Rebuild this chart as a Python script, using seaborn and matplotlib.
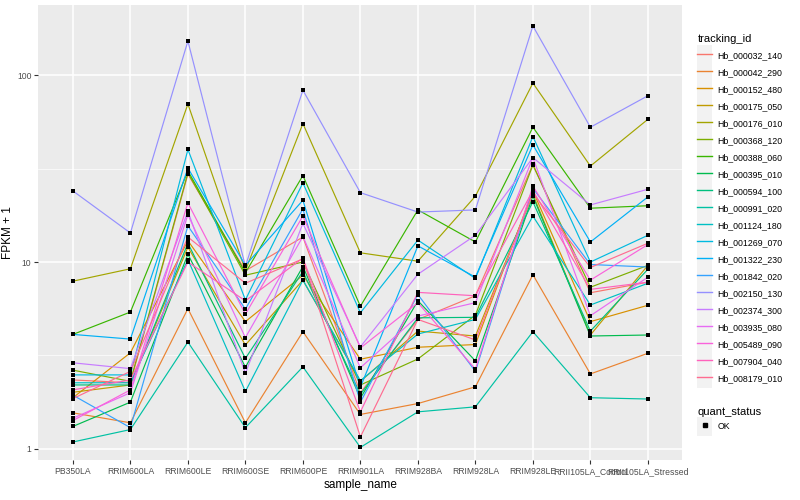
import numpy as np
import pandas as pd
import matplotlib
matplotlib.use("Agg")
import matplotlib.pyplot as plt
import seaborn as sns
from matplotlib.lines import Line2D
from matplotlib.patches import Rectangle
from matplotlib.legend_handler import HandlerLine2D

# samples on the x axis
samples = ["PB350LA", "RRIM600LA", "RRIM600LE", "RRIM600SE", "RRIM600PE",
           "RRIM901LA", "RRIM928BA", "RRIM928LA", "RRIM928LE",
           "RRII105LA_Control", "RRII105LA_Stressed"]

genes = ["Hb_000032_140", "Hb_000042_290", "Hb_000152_480", "Hb_000175_050",
         "Hb_000176_010", "Hb_000368_120", "Hb_000388_060", "Hb_000395_010",
         "Hb_000594_100", "Hb_000991_020", "Hb_001124_180", "Hb_001269_070",
         "Hb_001322_230", "Hb_001842_020", "Hb_002150_130", "Hb_002374_300",
         "Hb_003935_080", "Hb_005489_090", "Hb_007904_040", "Hb_008179_010"]

# FPKM + 1, one row per gene
fpkm = [
    [2.34, 2.26, 29.5, 8.98, 13.6, 2.00, 4.93, 6.60, 33.3, 6.85, 7.80],
    [1.56, 1.38, 5.63, 1.38, 4.24, 1.53, 1.75, 2.15, 8.55, 2.52, 3.25],
    [1.88, 3.27, 13.0, 4.80, 8.50, 3.02, 3.50, 3.62, 24.0, 4.80, 5.87],
    [2.01, 2.20, 12.0, 3.60, 8.00, 2.30, 4.27, 4.02, 23.0, 4.07, 9.60],
    [7.90, 9.20, 70.0, 9.00, 55.0, 11.2, 10.1, 22.5, 90.6, 32.6, 58.0],
    [2.64, 2.30, 30.0, 8.50, 10.0, 2.20, 3.03, 5.20, 33.0, 7.33, 9.60],
    [4.10, 5.40, 30.7, 8.76, 29.0, 5.80, 19.0, 12.8, 52.6, 19.4, 20.0],
    [1.32, 1.78, 11.0, 2.74, 9.46, 1.87, 6.20, 2.96, 22.5, 4.02, 4.07],
    [2.20, 2.20, 12.6, 3.05, 8.90, 1.96, 5.03, 5.06, 21.0, 4.27, 9.15],
    [1.09, 1.27, 3.73, 1.30, 2.75, 1.02, 1.58, 1.68, 4.24, 1.88, 1.85],
    [2.26, 2.26, 10.3, 2.03, 8.00, 2.32, 4.12, 4.93, 17.6, 5.89, 7.70],
    [2.49, 2.49, 40.0, 6.27, 26.5, 5.35, 13.1, 8.17, 46.9, 10.0, 13.9],
    [4.10, 3.87, 31.8, 9.60, 21.4, 2.14, 12.2, 8.30, 42.3, 12.8, 22.3],
    [1.94, 1.30, 15.6, 5.60, 19.2, 1.78, 6.70, 2.60, 24.8, 9.70, 9.40],
    [24.0, 14.3, 152., 9.50, 83.0, 23.5, 18.5, 19.0, 183., 52.6, 77.5],
    [2.89, 2.69, 18.7, 2.54, 16.1, 3.52, 8.60, 13.9, 36.2, 20.2, 24.5],
    [1.46, 2.00, 17.9, 3.94, 13.7, 2.72, 5.14, 6.06, 36.2, 5.16, 8.30],
    [1.42, 2.07, 20.7, 5.26, 17.6, 3.47, 6.06, 2.67, 25.5, 8.00, 12.4],
    [2.07, 2.34, 10.0, 6.20, 10.5, 1.58, 6.88, 6.60, 24.1, 7.14, 7.80],
    [1.86, 2.60, 13.6, 7.70, 10.4, 1.16, 4.93, 3.83, 23.3, 9.35, 12.6],
]

# ggplot2 default hue palette for 20 levels
colors = ["#F8766D", "#EA8331", "#D89000", "#C09B00", "#A3A500", "#7CAE00",
          "#39B600", "#00BB4E", "#00BF7D", "#00C1A3", "#00BFC4", "#00BAE0",
          "#00B0F6", "#35A2FF", "#9590FF", "#C77CFF", "#E76BF3", "#FA62DB",
          "#FF62BC", "#FF6C91"]

rows = []
for g, vals in zip(genes, fpkm):
    for s, v in zip(samples, vals):
        rows.append({"tracking_id": g, "sample_name": s, "fpkm": v, "quant_status": "OK"})
df = pd.DataFrame(rows)

plt.rcParams["font.family"] = ["Liberation Sans", "DejaVu Sans"]

fig, ax = plt.subplots(figsize=(8, 5), dpi=100)
fig.subplots_adjust(left=0.048, right=0.853, top=0.99, bottom=0.08)
ax.set_facecolor("#EBEBEB")
for sp in ax.spines.values():
    sp.set_visible(False)

sns.lineplot(data=df, x="sample_name", y="fpkm", hue="tracking_id", hue_order=genes,
             palette=colors, sort=False, estimator=None, lw=0.85, ax=ax)
sns.scatterplot(data=df, x="sample_name", y="fpkm", color="black", marker="s",
                s=10, linewidth=0, legend=False, zorder=3, ax=ax)

ax.set_yscale("log")
ax.set_ylim(0.873, 237)
ax.set_xlim(-0.6, 10.6)
ax.set_yticks([1, 10, 100])
ax.set_yticklabels(["1", "10", "100"])
ax.set_yticks([10 ** 0.5, 10 ** 1.5], minor=True)
ax.yaxis.set_minor_formatter(plt.NullFormatter())
ax.grid(True, which="major", color="white", lw=1.1)
ax.grid(True, which="minor", axis="y", color="white", lw=0.5)
ax.set_axisbelow(True)
ax.tick_params(axis="both", which="major", length=3, color="#333333",
               labelsize=6.2, labelcolor="#4D4D4D", pad=2)
ax.tick_params(axis="y", which="minor", length=0)
ax.set_xlabel("sample_name", fontsize=8.5, labelpad=2)
ax.set_ylabel("FPKM + 1", fontsize=8.5, labelpad=2)


class KeyHandler(HandlerLine2D):
    def create_artists(self, legend, orig_handle, xdescent, ydescent, width, height, fontsize, trans):
        arts = super().create_artists(legend, orig_handle, xdescent, ydescent, width, height, fontsize, trans)
        bg = Rectangle((-xdescent, -ydescent - 3), width, height + 6, facecolor="#F2F2F2",
                       edgecolor="none", transform=trans, zorder=0)
        return [bg] + list(arts)


handles = [Line2D([], [], color=c, lw=1) for c in colors]
leg1 = ax.legend(handles, genes, title="tracking_id", loc="upper left",
                 bbox_to_anchor=(1.018, 0.945), frameon=False, fontsize=6.3,
                 title_fontsize=8, handlelength=1.7, handleheight=1.6,
                 labelspacing=0.66, handletextpad=0.6, borderaxespad=0,
                 handler_map={Line2D: KeyHandler()})
leg1._legend_box.align = "left"
ax.add_artist(leg1)

ok = Line2D([], [], color="black", marker="s", markersize=3, lw=0)
leg2 = ax.legend([ok], ["OK"], title="quant_status", loc="upper left",
                 bbox_to_anchor=(1.018, 0.125), frameon=False, fontsize=6.3,
                 title_fontsize=8, handlelength=1.7, handleheight=1.6,
                 handletextpad=0.6, borderaxespad=0,
                 handler_map={Line2D: KeyHandler()})
leg2._legend_box.align = "left"

fig.savefig("out.png", dpi=100)
